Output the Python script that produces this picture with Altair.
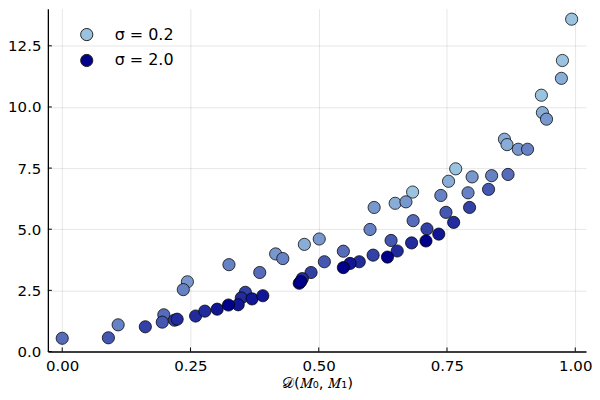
import altair as alt
import pandas as pd

# sigma levels and their colours
sigma_levels = [0.2, 0.4, 0.6, 0.8, 1.0, 1.2, 1.4, 1.6, 1.8, 2.0]
sigma_colors = ["#9ac3e0", "#89add7", "#7898cd", "#6782c4", "#566cba",
                "#4457b1", "#3341a7", "#222b9e", "#111694", "#00008b"]

# data points: divergence D(M0, M1), value, sigma
d_vals = [0.000, 0.090, 0.109, 0.162, 0.198, 0.195, 0.219, 0.224, 0.244, 0.236,
          0.260, 0.278, 0.302, 0.324, 0.325, 0.343, 0.357, 0.349, 0.370, 0.391,
          0.385, 0.416, 0.430, 0.472, 0.501, 0.462, 0.465, 0.468, 0.485, 0.511,
          0.548, 0.561, 0.548, 0.579, 0.608, 0.600, 0.606, 0.634, 0.641, 0.653,
          0.649, 0.670, 0.683, 0.684, 0.681, 0.711, 0.709, 0.734, 0.738, 0.748,
          0.763, 0.753, 0.767, 0.791, 0.794, 0.799, 0.831, 0.837, 0.869, 0.862,
          0.867, 0.889, 0.907, 0.934, 0.936, 0.944, 0.973, 0.975, 0.993]
y_vals = [0.54, 0.56, 1.09, 1.01, 1.50, 1.20, 1.28, 1.32, 2.85, 2.53,
          1.45, 1.65, 1.73, 1.90, 3.55, 1.91, 2.42, 2.19, 2.15, 2.28,
          3.23, 3.99, 3.80, 4.38, 4.60, 2.79, 2.86, 2.98, 3.23, 3.67,
          4.10, 3.60, 3.43, 3.67, 5.89, 4.99, 3.94, 3.86, 4.54, 4.11,
          6.06, 6.12, 6.52, 5.35, 4.44, 5.01, 4.52, 4.80, 6.38, 5.69,
          5.28, 6.96, 7.47, 6.49, 5.89, 7.14, 6.63, 7.19, 7.24, 8.68,
          8.46, 8.27, 8.27, 10.48, 9.77, 9.50, 11.17, 11.90, 13.59]
sig_vals = [1.0, 1.2, 0.8, 1.4, 1.0, 1.2, 1.4, 1.6, 0.6, 0.8,
            1.6, 1.6, 1.8, 2.0, 0.8, 1.8, 1.4, 1.6, 1.8, 1.8,
            1.0, 0.6, 0.8, 0.4, 0.6, 2.0, 2.0, 1.6, 1.4, 1.2,
            1.0, 1.8, 2.0, 1.6, 0.6, 0.8, 1.4, 2.0, 1.2, 1.6,
            0.4, 0.6, 0.2, 1.0, 1.6, 1.4, 2.0, 1.8, 0.8, 1.2,
            1.6, 0.4, 0.2, 0.8, 1.4, 0.6, 1.2, 0.8, 1.0, 0.4,
            0.4, 0.6, 0.8, 0.2, 0.4, 0.6, 0.4, 0.2, 0.2]

x_ticks = [0.0, 0.25, 0.5, 0.75, 1.0]
y_ticks = [0.0, 2.5, 5.0, 7.5, 10.0, 12.5]

df = pd.DataFrame({"d": d_vals, "y": y_vals, "sigma": sig_vals})
df = df.sort_values("sigma", kind="stable")

xscale = alt.Scale(domain=[-0.028, 1.021], nice=False, zero=False)
yscale = alt.Scale(domain=[0, 14.02], nice=False, zero=False)

font = "DejaVu Sans"

points = alt.Chart(df).mark_circle(
    size=150, opacity=1, stroke="black", strokeWidth=1, strokeOpacity=0.75
).encode(
    x=alt.X("d:Q", scale=xscale,
            axis=alt.Axis(values=x_ticks, format=".2f", title="𝒟(𝑀₀, 𝑀₁)",
                          titlePadding=2)),
    y=alt.Y("y:Q", scale=yscale,
            axis=alt.Axis(values=y_ticks, format=".1f", title=None)),
    color=alt.Color("sigma:O",
                    scale=alt.Scale(domain=sigma_levels, range=sigma_colors),
                    legend=alt.Legend(values=[0.2, 2.0], title=None,
                                      orient="none", legendX=31, legendY=18,
                                      labelExpr="'σ = ' + format(datum.value, '.1f')",
                                      symbolType="circle", symbolSize=150,
                                      symbolStrokeColor="#222", symbolStrokeWidth=1,
                                      labelFontSize=16, labelFont=font,
                                      labelColor="black", labelOffset=20,
                                      rowPadding=8, padding=0)),
)

xt = alt.Chart(pd.DataFrame({"t": x_ticks})).mark_rule(color="black", strokeWidth=1).encode(
    x=alt.X("t:Q", scale=xscale), y=alt.value(344), y2=alt.value(340))
yt = alt.Chart(pd.DataFrame({"t": y_ticks})).mark_rule(color="black", strokeWidth=1).encode(
    y=alt.Y("t:Q", scale=yscale), x=alt.value(0), x2=alt.value(4))

chart = alt.layer(xt, yt, points).properties(
    width=540, height=344,
    autosize=alt.AutoSizeParams(type="none"),
    padding={"left": 40, "top": 0, "right": 6, "bottom": 40},
).configure_view(stroke=None).configure_axis(
    labelFont=font, labelFontSize=15, labelColor="black",
    titleFont=font, titleFontSize=15, titleFontWeight="normal", titleColor="black",
    domainColor="black", domainWidth=1.3, ticks=False, labelPadding=7,
    gridColor="black", gridOpacity=0.1, gridWidth=1,
)

chart.save("out.html", embed_options={"renderer": "svg", "actions": False})
